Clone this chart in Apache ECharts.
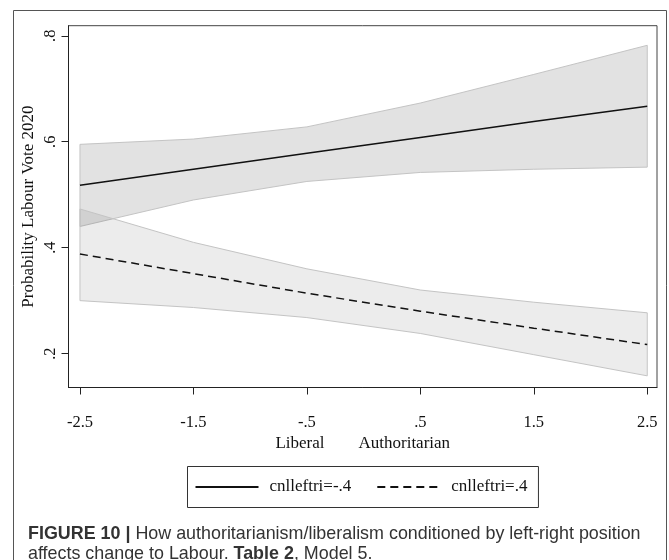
<!DOCTYPE html>
<html>
<head>
<meta charset="utf-8">
<script src="https://cdn.jsdelivr.net/npm/echarts@6/dist/echarts.min.js"></script>
<style>
html,body{margin:0;padding:0;background:#fff;}
#chart{width:669px;height:560px;}
</style>
</head>
<body>
<div id="chart"></div>
<script>
// ---- data ----
const xValues = [-2.5, -1.5, -0.5, 0.5, 1.5, 2.5];
const xTickValues = [-2.5, -1.5, -0.5, 0.5, 1.5, 2.5];
const xTickLabels = ['-2.5', '-1.5', '-.5', '.5', '1.5', '2.5'];
const yTickValues = [0.2, 0.4, 0.6, 0.8];
const yTickLabels = ['.2', '.4', '.6', '.8'];

const solidName = 'cnlleftri=-.4';
const solidMean  = [0.518, 0.548, 0.578, 0.608, 0.638, 0.667];
const solidLower = [0.440, 0.490, 0.525, 0.542, 0.548, 0.552];
const solidUpper = [0.595, 0.605, 0.628, 0.673, 0.727, 0.782];

const dashName = 'cnlleftri=.4';
const dashMean  = [0.388, 0.351, 0.314, 0.280, 0.248, 0.217];
const dashLower = [0.300, 0.287, 0.268, 0.238, 0.198, 0.158];
const dashUpper = [0.473, 0.410, 0.360, 0.320, 0.297, 0.277];

// ---- chart ----
const SERIF = '"Liberation Serif", "Times New Roman", serif';
const SANS = '"Liberation Sans", Arial, sans-serif';
const chart = echarts.init(document.getElementById('chart'), null, {renderer: 'canvas'});

function bandSeries(lo, hi, fill, z) {
  return {
    type: 'custom',
    silent: true,
    z: z,
    clip: true,
    data: xValues.map((x, i) => [x, lo[i], hi[i]]),
    encode: {x: 0, y: [1, 2]},
    renderItem: function (params, api) {
      if (params.dataIndex !== 0) return null;
      const pts = [];
      for (let i = 0; i < xValues.length; i++) pts.push(api.coord([xValues[i], hi[i]]));
      for (let i = xValues.length - 1; i >= 0; i--) pts.push(api.coord([xValues[i], lo[i]]));
      return {
        type: 'polygon',
        shape: {points: pts},
        style: {fill: fill, stroke: '#c4c4c4', lineWidth: 1}
      };
    }
  };
}

function labelFor(values, labels) {
  return function (v) {
    for (let i = 0; i < values.length; i++) if (Math.abs(values[i] - v) < 1e-6) return labels[i];
    return '';
  };
}

const option = {
  animation: false,
  backgroundColor: '#ffffff',
  grid: {
    left: 68.5, right: 12, top: 25.7, bottom: 172.5,
    show: true, borderColor: '#444', borderWidth: 1, backgroundColor: '#ffffff'
  },
  xAxis: {
    type: 'value',
    min: -2.601, max: 2.586,
    name: 'Liberal        Authoritarian',
    nameLocation: 'middle',
    nameGap: 48,
    nameMoveOverlap: false,
    nameTextStyle: {fontFamily: SERIF, fontSize: 17, color: '#111'},
    axisLine: {show: true, onZero: false, lineStyle: {color: '#222', width: 1}},
    axisTick: {show: true, length: 7, lineStyle: {color: '#222'}, customValues: xTickValues},
    axisLabel: {
      customValues: xTickValues,
      formatter: labelFor(xTickValues, xTickLabels),
      fontFamily: SERIF, fontSize: 16.5, color: '#111', margin: 27
    },
    splitLine: {show: false}
  },
  yAxis: {
    type: 'value',
    min: 0.136, max: 0.819,
    name: 'Probability Labour Vote 2020',
    nameLocation: 'middle',
    nameGap: 31,
    nameMoveOverlap: false,
    nameRotate: 90,
    nameTextStyle: {fontFamily: SERIF, fontSize: 17, color: '#111'},
    axisLine: {show: true, onZero: false, lineStyle: {color: '#222', width: 1}},
    axisTick: {show: true, length: 7, lineStyle: {color: '#222'}, customValues: yTickValues},
    axisLabel: {
      customValues: yTickValues,
      formatter: labelFor(yTickValues, yTickLabels),
      rotate: 90,
      fontFamily: SERIF, fontSize: 16.5, color: '#111', margin: 9
    },
    splitLine: {show: false}
  },
  legend: {
    data: [solidName, dashName],
    left: 187.5, top: 466.5,
    orient: 'horizontal',
    borderColor: '#333', borderWidth: 1,
    padding: [12, 11, 12, 7],
    itemWidth: 63, itemHeight: 1,
    itemGap: 25,
    textStyle: {fontFamily: SERIF, fontSize: 17, color: '#111', padding: [0, 0, 0, 6]}
  },
  series: [
    bandSeries(solidLower, solidUpper, 'rgba(0,0,0,0.115)', 1),
    bandSeries(dashLower, dashUpper, 'rgba(0,0,0,0.075)', 2),
    {
      name: solidName, type: 'line', z: 5,
      data: xValues.map((x, i) => [x, solidMean[i]]),
      symbol: 'none', showSymbol: false,
      lineStyle: {color: '#111', width: 1.5, type: 'solid'},
      itemStyle: {color: '#111'}
    },
    {
      name: dashName, type: 'line', z: 5,
      data: xValues.map((x, i) => [x, dashMean[i]]),
      symbol: 'none', showSymbol: false,
      lineStyle: {color: '#111', width: 1.5, type: [8, 5]},
      itemStyle: {color: '#111'}
    }
  ],
  graphic: [
    {
      type: 'rect', z: 100, silent: true,
      shape: {x: 13.5, y: 10.5, width: 653, height: 620},
      style: {fill: 'none', stroke: '#555', lineWidth: 1}
    },
    {
      type: 'text', z: 100, left: 28, top: 525,
      style: {
        text: '{b|FIGURE 10 |} How authoritarianism/liberalism conditioned by left-right position',
        font: '17.9px ' + SANS,
        fill: '#333',
        rich: {b: {fontWeight: 'bold', fontFamily: SANS, fontSize: 17.9, fill: '#333'}}
      }
    },
    {
      type: 'text', z: 100, left: 28, top: 545,
      style: {
        text: 'affects change to Labour. {b|Table 2}, Model 5.',
        font: '17.9px ' + SANS,
        fill: '#333',
        rich: {b: {fontWeight: 'bold', fontFamily: SANS, fontSize: 17.9, fill: '#333'}}
      }
    }
  ]
};
chart.setOption(option);
</script>
</body>
</html>
